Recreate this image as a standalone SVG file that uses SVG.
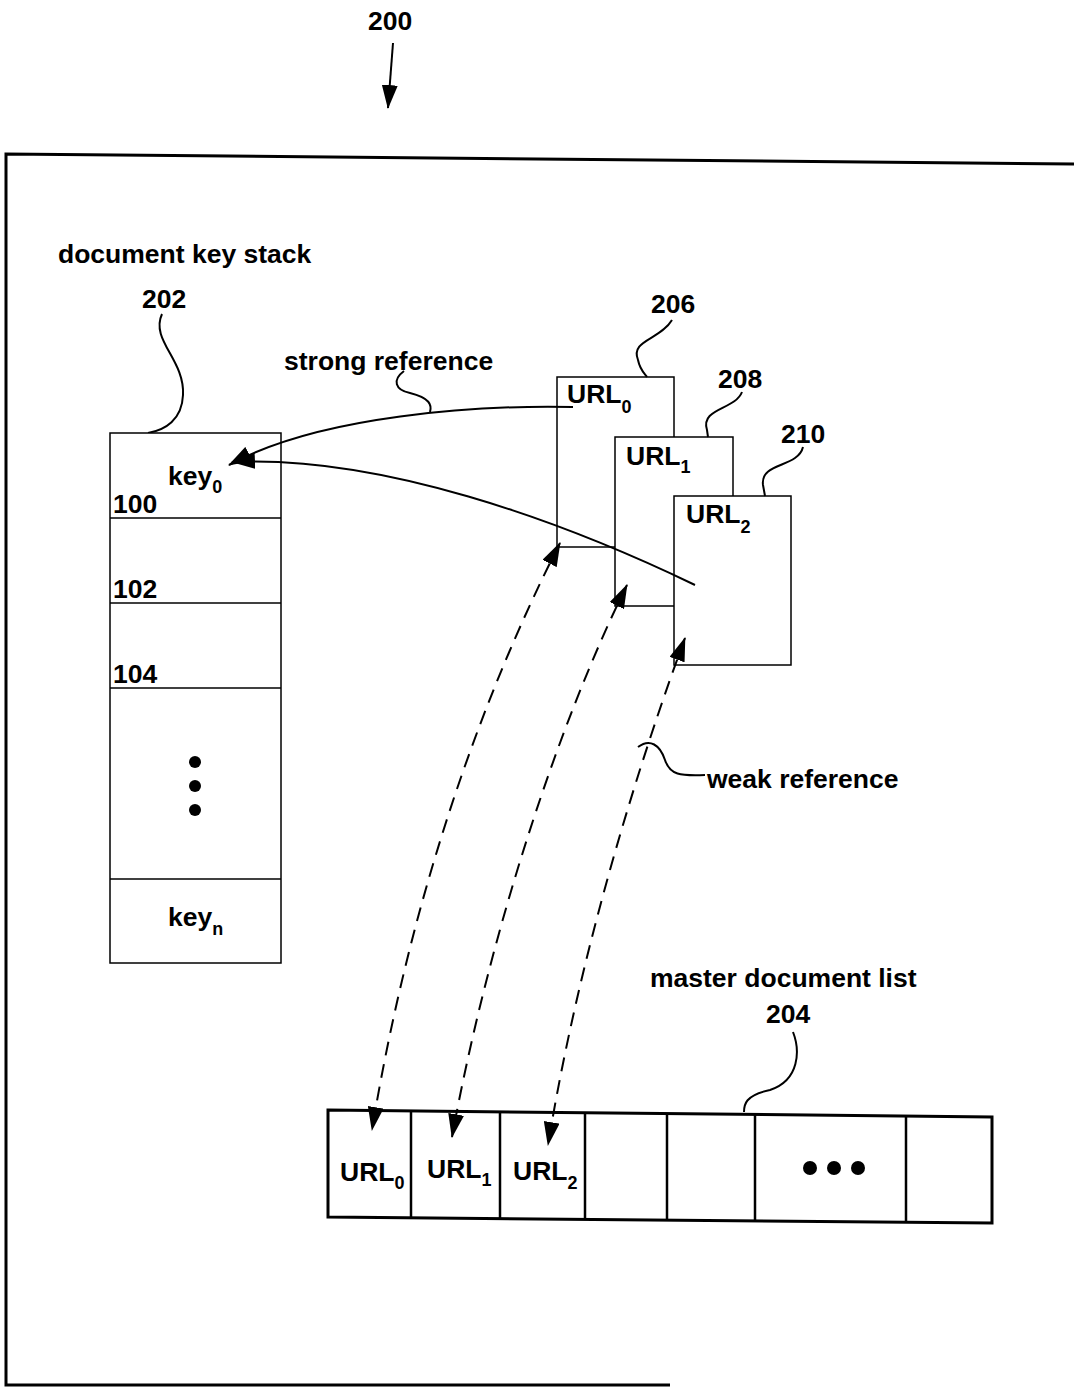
<svg xmlns="http://www.w3.org/2000/svg" width="1074" height="1387" viewBox="0 0 1074 1387">
<style>
text{font-family:"Liberation Sans",Arial,sans-serif;font-size:26.5px;font-weight:bold;fill:#000}
.sub{font-size:18px}
.box{fill:#fff;stroke:#000;stroke-width:1.5}
.thick{fill:none;stroke:#000;stroke-width:3}
.lead{fill:none;stroke:#000;stroke-width:2}
.solid{fill:none;stroke:#000;stroke-width:2}
.dash{fill:none;stroke:#000;stroke-width:2;stroke-dasharray:14 9}
</style>
<defs>
<marker id="ah" markerUnits="userSpaceOnUse" markerWidth="24" markerHeight="16" refX="23" refY="8" orient="auto-start-reverse">
<path d="M0,0 L24,8 L0,16 z" fill="#000"/>
</marker>
</defs>
<rect width="1074" height="1387" fill="#fff"/>
<g id="frame">
<path class="thick" d="M1074 164 L6 154 L6 1385 L670 1385"/>
</g>
<g id="label200">
<text x="368" y="30">200</text>
<line x1="393" y1="43" x2="388" y2="108" stroke="#000" stroke-width="2" marker-end="url(#ah)"/>
</g>
<g id="stack202">
<text x="58" y="263">document key stack</text>
<text x="142" y="308">202</text>
<path class="lead" d="M162 314 C150 340 185 360 183 395 C182 420 165 430 148 433"/>
<rect class="box" x="110" y="433" width="171" height="530"/>
<line x1="110" y1="518" x2="281" y2="518" stroke="#000" stroke-width="1.5"/>
<line x1="110" y1="603" x2="281" y2="603" stroke="#000" stroke-width="1.5"/>
<line x1="110" y1="688" x2="281" y2="688" stroke="#000" stroke-width="1.5"/>
<line x1="110" y1="879" x2="281" y2="879" stroke="#000" stroke-width="1.5"/>
<text x="168" y="485">key<tspan class="sub" dy="8">0</tspan></text>
<text x="113" y="513">100</text>
<text x="113" y="598">102</text>
<text x="113" y="683">104</text>
<circle cx="195" cy="762" r="6"/>
<circle cx="195" cy="786" r="6"/>
<circle cx="195" cy="810" r="6"/>
<text x="168" y="926">key<tspan class="sub" dy="9">n</tspan></text>
</g>
<g id="url206">
<rect class="box" x="557" y="377" width="117" height="170"/>
<text x="567" y="403">URL<tspan class="sub" dy="10">0</tspan></text>
<text x="651" y="313">206</text>
<path class="lead" d="M672 320 C660 340 630 340 638 360 C640 370 645 374 647 377"/>
</g>
<g id="url208">
<rect class="box" x="615" y="437" width="118" height="169"/>
<text x="626" y="465">URL<tspan class="sub" dy="8">1</tspan></text>
<text x="718" y="388">208</text>
<path class="lead" d="M742 392 C735 410 700 408 707 430 L708 437"/>
</g>
<g id="url210">
<rect class="box" x="674" y="496" width="117" height="169"/>
<text x="686" y="523">URL<tspan class="sub" dy="10">2</tspan></text>
<text x="781" y="443">210</text>
<path class="lead" d="M803 447 C798 468 760 462 763 485 L765 496"/>
</g>
<g id="master204">
<text x="650" y="987">master document list</text>
<text x="766" y="1023">204</text>
<path class="lead" d="M793 1032 C800 1050 800 1080 770 1090 C745 1095 744 1105 744 1112"/>
<path class="thick" fill="#fff" d="M328 1110 L992 1117 L992 1223 L328 1217 Z"/>
<line x1="411" y1="1111" x2="411" y2="1218" stroke="#000" stroke-width="2.5"/>
<line x1="500" y1="1112" x2="500" y2="1219" stroke="#000" stroke-width="2.5"/>
<line x1="585" y1="1113" x2="585" y2="1220" stroke="#000" stroke-width="2.5"/>
<line x1="667" y1="1114" x2="667" y2="1220" stroke="#000" stroke-width="2.5"/>
<line x1="755" y1="1115" x2="755" y2="1221" stroke="#000" stroke-width="2.5"/>
<line x1="906" y1="1116" x2="906" y2="1222" stroke="#000" stroke-width="2.5"/>
<text x="340" y="1181">URL<tspan class="sub" dy="8">0</tspan></text>
<text x="427" y="1178">URL<tspan class="sub" dy="8">1</tspan></text>
<text x="513" y="1180">URL<tspan class="sub" dy="9">2</tspan></text>
<circle cx="810" cy="1168" r="7"/>
<circle cx="834" cy="1168" r="7"/>
<circle cx="858" cy="1168" r="7"/>
</g>
<g id="labels">
<text x="284" y="370">strong reference</text>
<path class="lead" d="M404 371 C392 380 395 390 410 393 C430 398 432 405 430 412"/>
<text x="707" y="788">weak reference</text>
<path class="lead" d="M638 747 C650 738 660 745 665 760 C670 775 680 776 705 775"/>
</g>
<g id="connectors">
<path class="solid" d="M573 407 C480 405 320 415 229 465" marker-end="url(#ah)"/>
<path class="solid" d="M695 585 C560 520 380 455 232 462" marker-end="url(#ah)"/>
<path class="dash" d="M560 543 C480 700 410 900 372 1130" marker-start="url(#ah)" marker-end="url(#ah)"/>
<path class="dash" d="M627 585 C560 720 490 930 452 1137" marker-start="url(#ah)" marker-end="url(#ah)"/>
<path class="dash" d="M685 638 C640 760 580 950 548 1145" marker-start="url(#ah)" marker-end="url(#ah)"/>
</g>
</svg>
